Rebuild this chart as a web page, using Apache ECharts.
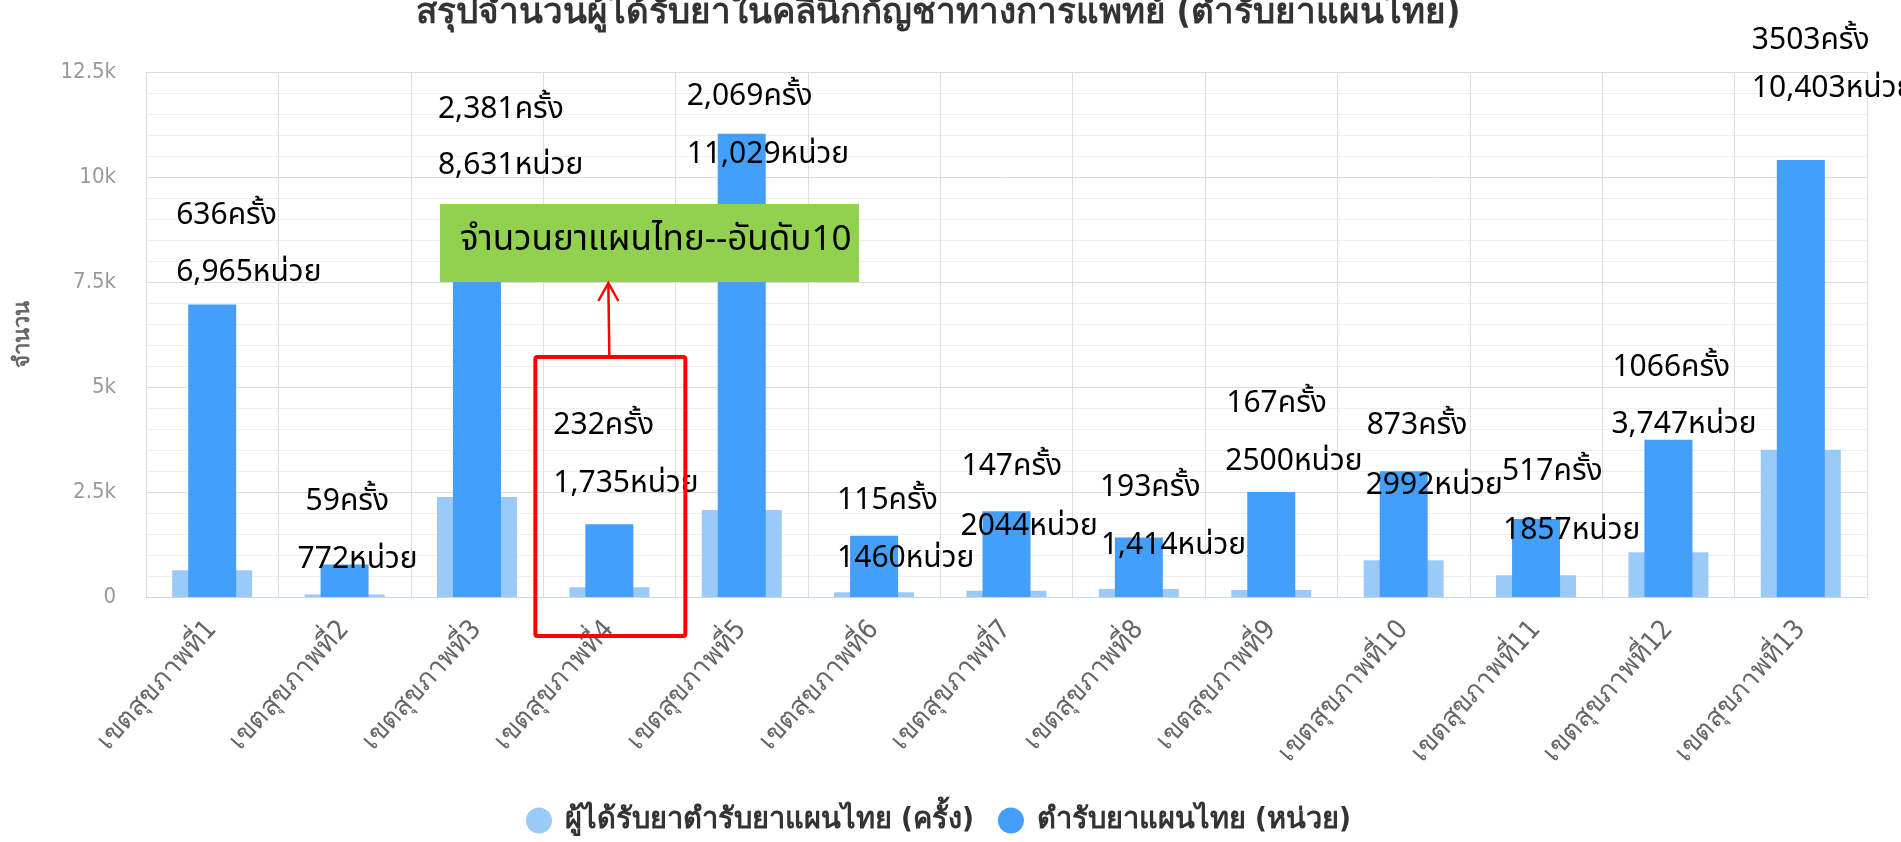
<!DOCTYPE html>
<html>
<head>
<meta charset="utf-8">
<script src="https://cdn.jsdelivr.net/npm/echarts@6/dist/echarts.min.js"></script>
<style>
  html, body { margin: 0; padding: 0; background: #fff; }
  #main { width: 1901px; height: 842px; }
</style>
</head>
<body>
<div id="main"></div>
<script>
// ข้อมูลแต่ละเขตสุขภาพ
const regions = ['เขตสุขภาพที่1', 'เขตสุขภาพที่2', 'เขตสุขภาพที่3', 'เขตสุขภาพที่4', 'เขตสุขภาพที่5',
  'เขตสุขภาพที่6', 'เขตสุขภาพที่7', 'เขตสุขภาพที่8', 'เขตสุขภาพที่9', 'เขตสุขภาพที่10',
  'เขตสุขภาพที่11', 'เขตสุขภาพที่12', 'เขตสุขภาพที่13'];
const visits = [636, 59, 2381, 232, 2069, 115, 147, 193, 167, 873, 517, 1066, 3503]; // ครั้ง
const units = [6965, 772, 8631, 1735, 11029, 1460, 2044, 1414, 2500, 2992, 1857, 3747, 10403]; // หน่วย
// ข้อความที่เขียนทับไว้บนภาพ (รูปแบบตัวเลขไม่เหมือนกันทุกอัน)
const visitText = ['636', '59', '2,381', '232', '2,069', '115', '147', '193', '167', '873', '517', '1066', '3503'];
const unitText = ['6,965', '772', '8,631', '1,735', '11,029', '1460', '2044', '1,414', '2500', '2992', '1857', '3,747', '10,403'];
const yTickLabels = ['0', '2.5k', '5k', '7.5k', '10k', '12.5k'];

// ตำแหน่งข้อความ (px จากยอดแท่ง)
const visitOffset = [[-36, -352], [-39, -91], [-39, -385], [-56, -159], [-55, -411], [-37, -89], [-45, -122],
  [-39, -99], [-45, -184], [-37, -132], [-34, -101], [-56, -182], [-49, -407]];
const unitOffset = [[-36, -30], [-47, -3], [-39, -67], [-56, -38], [-55, 23], [-37, 25], [-46, 18],
  [-38, 10], [-46, -28], [-38, 17], [-33, 14], [-57, -13], [-49, -69]];

const thaiFont = "'Noto Sans Thai', 'Noto Sans', Tahoma, sans-serif";
const narrowFont = "'Liberation Sans Narrow', 'DejaVu Sans Condensed', 'Noto Sans', sans-serif";

const chart = echarts.init(document.getElementById('main'));

const noteLabel = {
  show: true,
  position: 'top',
  distance: 0,
  align: 'left',
  verticalAlign: 'middle',
  fontSize: 30,
  color: '#000',
  fontFamily: thaiFont
};

const option = {
  animation: false,
  title: {
    text: 'สรุปจำนวนผู้ได้รับยาในคลินิกกัญชาทางการแพทย์ (ตำรับยาแผนไทย)',
    left: 933,
    textAlign: 'center',
    top: -9,
    textStyle: { fontSize: 35, fontWeight: 'bold', color: '#333', fontFamily: narrowFont }
  },
  legend: {
    bottom: 2,
    left: 521,
    icon: 'circle',
    itemWidth: 26,
    itemHeight: 26,
    itemGap: 24,
    textStyle: { fontSize: 29, fontWeight: 'bold', color: '#333', fontFamily: narrowFont, padding: [0, 0, 0, 8] }
  },
  grid: { left: 146, right: 34, top: 72, bottom: 245 },
  xAxis: [
    {
      type: 'category',
      data: regions,
      axisLine: { lineStyle: { color: '#ccd6eb' } },
      axisTick: { length: 21, lineStyle: { color: '#cccccc' } },
      splitLine: { show: true, lineStyle: { color: '#dedede' } },
      axisLabel: { rotate: 48, margin: 28, fontSize: 27, color: '#666', fontFamily: narrowFont }
    },
    {
      type: 'category',
      data: regions,
      show: false
    }
  ],
  yAxis: {
    type: 'value',
    min: 0,
    max: 12500,
    interval: 2500,
    name: 'จำนวน',
    nameLocation: 'middle',
    nameGap: 112,
    nameRotate: 90,
    nameTextStyle: { fontSize: 22, fontWeight: 'bold', color: '#666', fontFamily: narrowFont },
    axisLine: { show: false },
    axisTick: { show: false },
    minorTick: { show: false, splitNumber: 5 },
    splitLine: { lineStyle: { color: '#dcdcdc' } },
    minorSplitLine: { show: true, lineStyle: { color: '#efefef' } },
    axisLabel: {
      margin: 30,
      fontSize: 22,
      color: '#999',
      fontFamily: narrowFont,
      formatter: (v) => yTickLabels[Math.round(v / 2500)]
    }
  },
  series: [
    {
      name: 'ผู้ได้รับยาตำรับยาแผนไทย (ครั้ง)',
      type: 'bar',
      xAxisIndex: 0,
      barWidth: 80,
      itemStyle: { color: '#9ccaf8' },
      label: Object.assign({}, noteLabel, { formatter: (p) => visitText[p.dataIndex] + 'ครั้ง' }),
      data: visits.map((v, i) => ({ value: v, label: { offset: visitOffset[i] } }))
    },
    {
      name: 'ตำรับยาแผนไทย (หน่วย)',
      type: 'bar',
      xAxisIndex: 1,
      barWidth: 48,
      itemStyle: { color: '#449ffa' },
      label: Object.assign({}, noteLabel, { formatter: (p) => unitText[p.dataIndex] + 'หน่วย' }),
      data: units.map((v, i) => ({ value: v, label: { offset: unitOffset[i] } }))
    }
  ]
};
chart.setOption(option);

// กล่องเน้น + ลูกศร ที่วาดทับไว้ในภาพต้นฉบับ
const cx = chart.convertToPixel({ xAxisIndex: 0 }, regions[3]);
chart.setOption({
  graphic: [
    {
      type: 'rect',
      z: 100,
      shape: { x: 440, y: 204, width: 419, height: 78 },
      style: { fill: '#92d050' }
    },
    {
      type: 'text',
      z: 101,
      x: 460,
      y: 243,
      style: {
        text: 'จำนวนยาแผนไทย--อันดับ10',
        fontSize: 35,
        fill: '#000',
        fontFamily: thaiFont,
        verticalAlign: 'middle'
      }
    },
    {
      type: 'rect',
      z: 100,
      shape: { x: cx - 74, y: 357, width: 150, height: 279, r: 2 },
      style: { fill: null, stroke: '#ff0000', lineWidth: 4 }
    },
    {
      type: 'line',
      z: 100,
      shape: { x1: cx, y1: 357, x2: cx - 1, y2: 284 },
      style: { stroke: '#ff0000', lineWidth: 2.5 }
    },
    {
      type: 'polyline',
      z: 100,
      shape: { points: [[cx - 11, 301], [cx - 1, 283], [cx + 9, 301]] },
      style: { stroke: '#ff0000', lineWidth: 2.5, fill: null }
    }
  ]
});
</script>
</body>
</html>
